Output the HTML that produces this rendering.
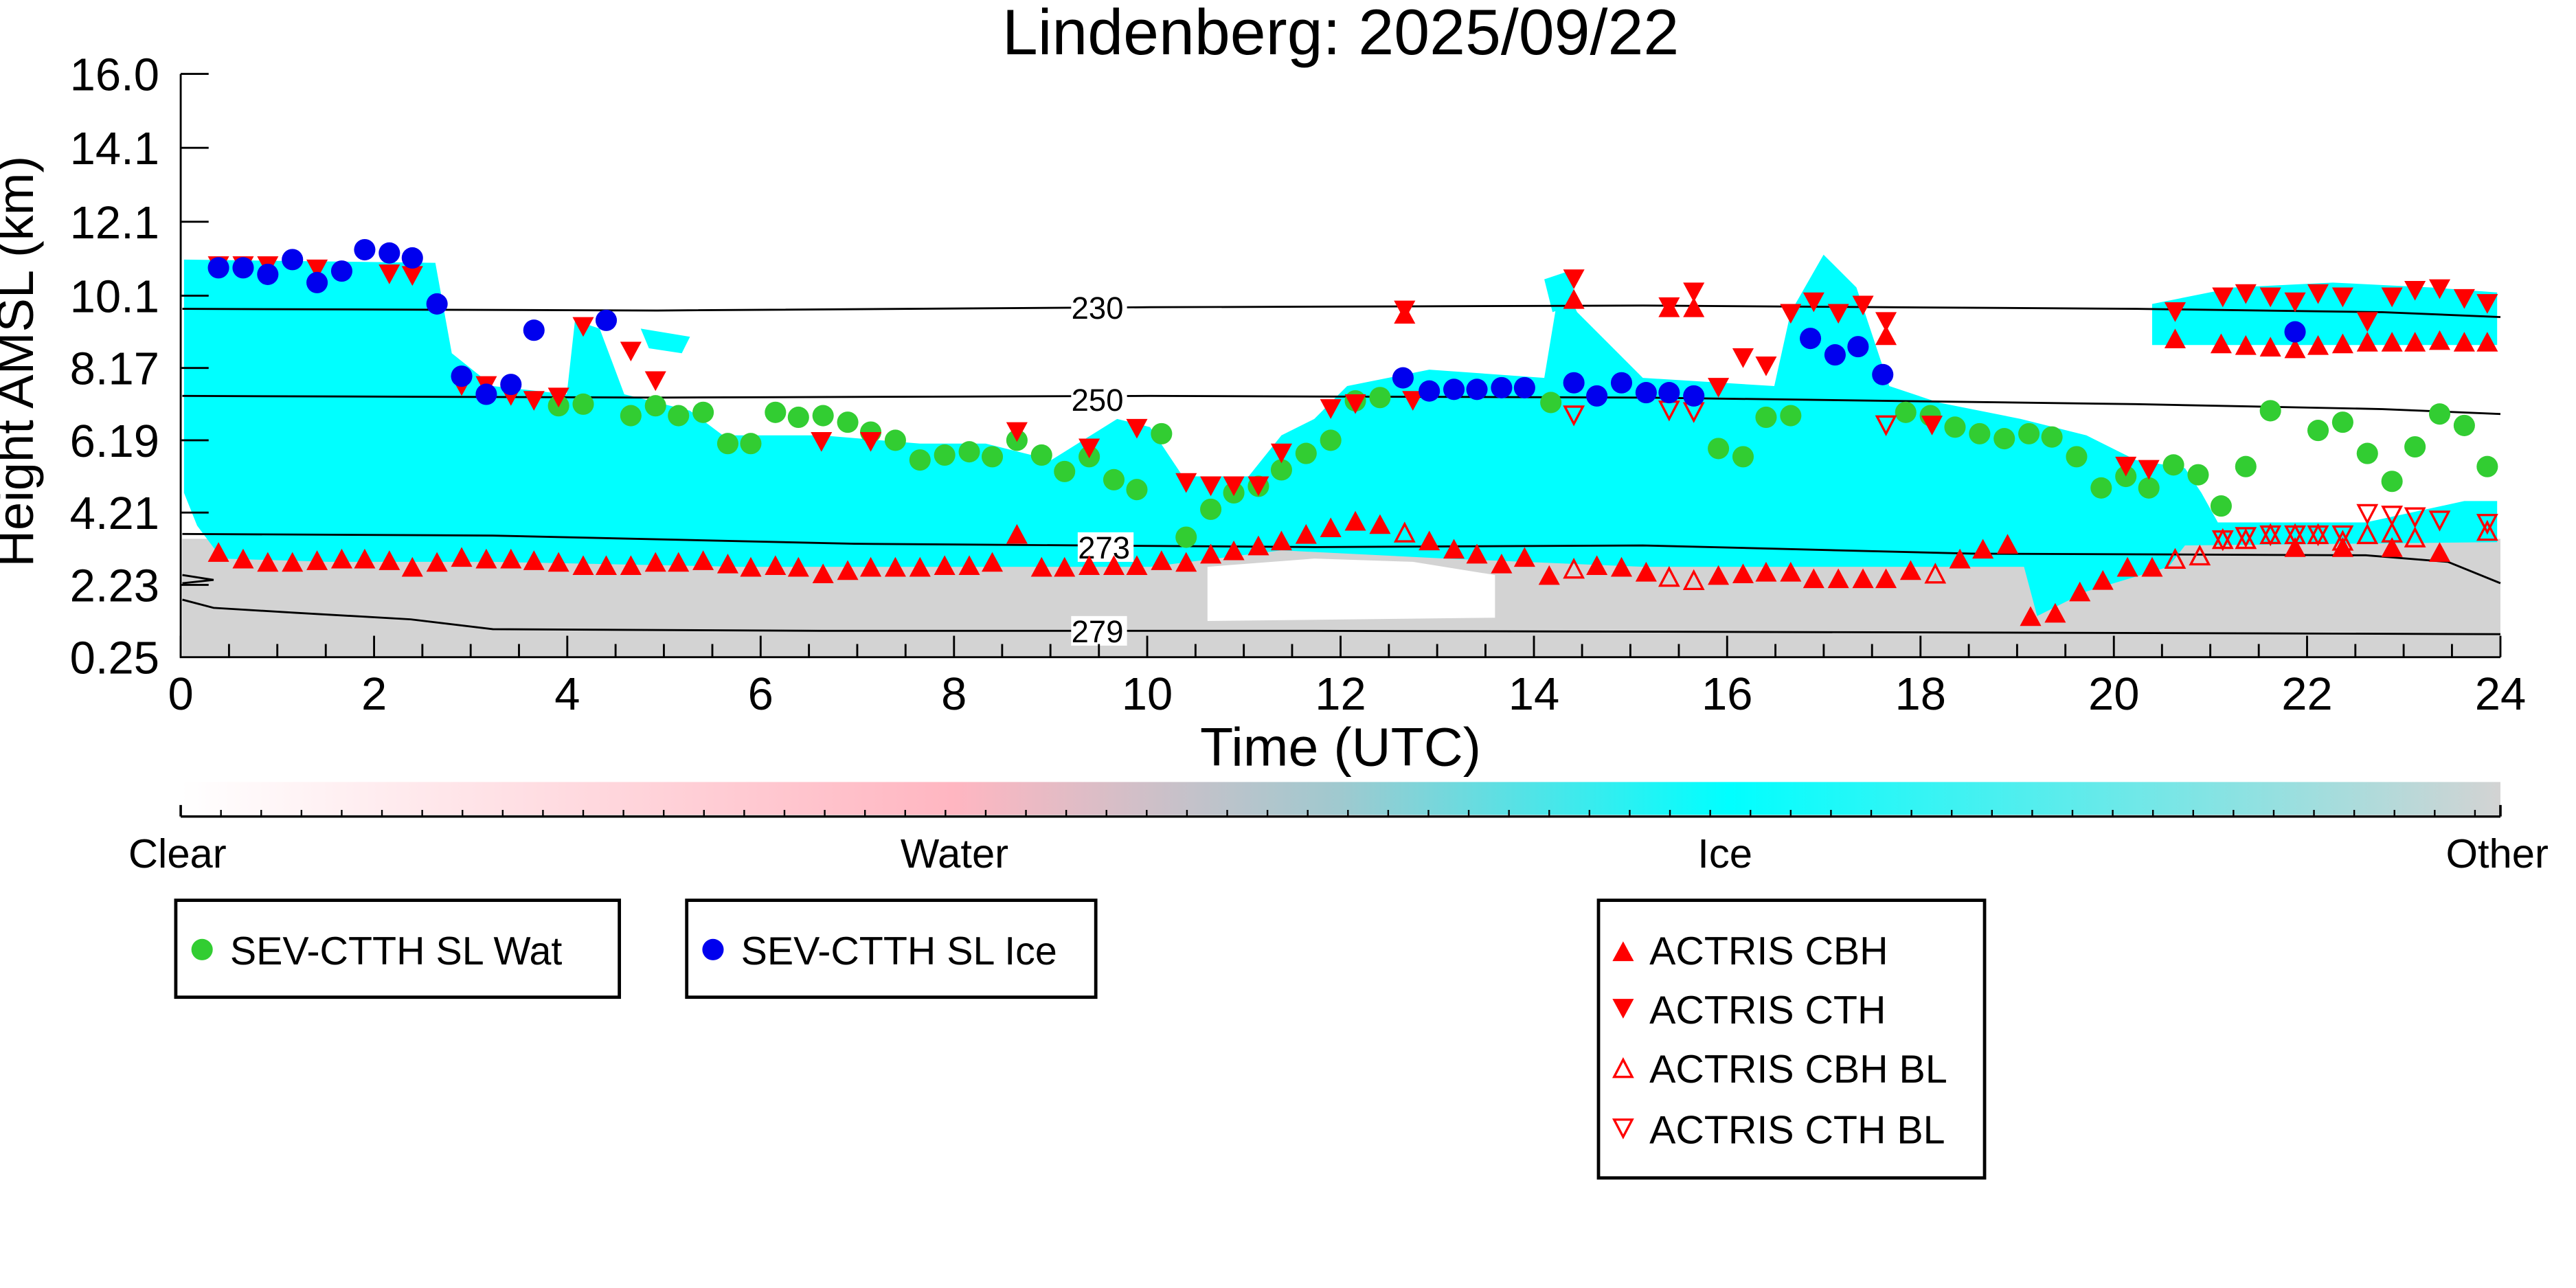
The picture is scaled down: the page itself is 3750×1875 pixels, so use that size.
<!DOCTYPE html>
<html><head><meta charset="utf-8"><style>html,body{margin:0;padding:0;background:#fff}svg{display:block}text{font-family:"Liberation Sans","DejaVu Sans",sans-serif}</style></head>
<body>
<svg xmlns="http://www.w3.org/2000/svg" width="3750" height="1875" viewBox="0 0 1568 784" preserveAspectRatio="none">
<defs>
<linearGradient id="cb" x1="0" x2="1" y1="0" y2="0">
<stop offset="0" stop-color="#ffffff"/><stop offset="0.333" stop-color="#ffb6c1"/><stop offset="0.5" stop-color="#9fc9cf"/><stop offset="0.667" stop-color="#00ffff"/><stop offset="1" stop-color="#d3d3d3"/>
</linearGradient>
<path id="u" d="M0,-7 L6.5,5 L-6.5,5Z" fill="#f00"/>
<path id="d" d="M0,7 L6.5,-5 L-6.5,-5Z" fill="#f00"/>
<path id="uo" d="M0,-6 L5.5,4.5 L-5.5,4.5Z" fill="none" stroke="#f00" stroke-width="1.4"/>
<path id="do" d="M0,6 L5.5,-4.5 L-5.5,-4.5Z" fill="none" stroke="#f00" stroke-width="1.4"/>
</defs>
<text x="816" y="33" font-size="39" text-anchor="middle">Lindenberg: 2025/09/22</text>

<rect x="111" y="328" width="1411" height="72" fill="#d3d3d3"/>
<path d="M735,345 L800,340 L860,342 L910,350 L910,376 L735,378Z" fill="#fff"/>
<path fill="#00ffff" d="M112,158 L265,160 L275,215 L300,235 L345,240 L350,195 L365,200 L380,240 L420,250 L440,265 L500,265 L560,270 L600,270 L640,280 L680,255 L700,260 L720,290 L760,290 L780,265 L800,255 L820,235 L870,225 L940,230 L950,170 L960,190 L1000,230 L1080,235 L1090,190 L1110,155 L1130,175 L1150,235 L1180,245 L1230,255 L1270,265 L1300,280 L1330,285 L1340,300 L1350,318 L1440,318 L1500,305 L1520,305 L1520,330 L1330,332 L1320,345 L1270,360 L1240,375 L1232,345 L1150,345 L1000,345 L880,340 L780,335 L700,345 L600,345 L450,345 L300,342 L200,342 L135,340 L120,320 L112,300Z"/>
<path fill="#00ffff" d="M1310,185 L1360,175 L1420,172 L1480,175 L1520,178 L1520,210 L1310,210Z"/>
<path fill="#00ffff" d="M940,170 L955,165 L960,185 L945,190Z"/>
<path fill="#00ffff" d="M390,200 L420,205 L415,215 L395,212Z"/>
<g fill="none" stroke="#000" stroke-width="1.2">
<path d="M111,188 L400,189 L700,187 L1000,186 L1300,188 L1450,190 L1522,193"/>
<path d="M111,241 L400,242 L700,241 L1000,242 L1300,246 L1450,249 L1522,252"/>
<path d="M111,325 L300,326 L520,331 L800,333 L1000,332 L1200,337 L1440,338 L1490,342 L1522,355"/>
<path d="M111,365 L130,370 L180,373 L250,377 L300,383 L500,384 L800,384 L1200,385 L1522,386"/>
<path d="M111,350 L130,353 L111,355"/>
</g>
<g font-size="19" text-anchor="middle">
<rect x="652" y="178" width="34" height="18" fill="#fff"/><text x="668" y="194">230</text>
<rect x="652" y="234" width="34" height="18" fill="#fff"/><text x="668" y="250">250</text>
<rect x="656" y="324" width="34" height="18" fill="#fff"/><text x="672" y="340">273</text>
<rect x="652" y="375" width="34" height="18" fill="#fff"/><text x="668" y="391">279</text>
</g>

<g fill="#32cd32">
<circle cx="340" cy="247" r="6.5"/><circle cx="355" cy="246" r="6.5"/><circle cx="384" cy="253" r="6.5"/><circle cx="399" cy="247" r="6.5"/><circle cx="413" cy="253" r="6.5"/><circle cx="428" cy="251" r="6.5"/><circle cx="443" cy="270" r="6.5"/><circle cx="457" cy="270" r="6.5"/><circle cx="472" cy="251" r="6.5"/><circle cx="486" cy="254" r="6.5"/><circle cx="501" cy="253" r="6.5"/><circle cx="516" cy="257" r="6.5"/><circle cx="530" cy="263" r="6.5"/><circle cx="545" cy="268" r="6.5"/><circle cx="560" cy="280" r="6.5"/><circle cx="575" cy="277" r="6.5"/><circle cx="590" cy="275" r="6.5"/><circle cx="604" cy="278" r="6.5"/><circle cx="619" cy="268" r="6.5"/><circle cx="634" cy="277" r="6.5"/><circle cx="648" cy="287" r="6.5"/><circle cx="663" cy="278" r="6.5"/><circle cx="678" cy="292" r="6.5"/><circle cx="692" cy="298" r="6.5"/><circle cx="707" cy="264" r="6.5"/><circle cx="722" cy="327" r="6.5"/><circle cx="737" cy="310" r="6.5"/><circle cx="751" cy="300" r="6.5"/><circle cx="766" cy="296" r="6.5"/><circle cx="780" cy="286" r="6.5"/><circle cx="795" cy="276" r="6.5"/><circle cx="810" cy="268" r="6.5"/><circle cx="825" cy="244" r="6.5"/><circle cx="840" cy="242" r="6.5"/><circle cx="944" cy="245" r="6.5"/><circle cx="1046" cy="273" r="6.5"/><circle cx="1061" cy="278" r="6.5"/><circle cx="1075" cy="254" r="6.5"/><circle cx="1090" cy="253" r="6.5"/><circle cx="1160" cy="251" r="6.5"/><circle cx="1175" cy="253" r="6.5"/><circle cx="1190" cy="260" r="6.5"/><circle cx="1205" cy="264" r="6.5"/><circle cx="1220" cy="267" r="6.5"/><circle cx="1235" cy="264" r="6.5"/><circle cx="1249" cy="266" r="6.5"/><circle cx="1264" cy="278" r="6.5"/><circle cx="1279" cy="297" r="6.5"/><circle cx="1294" cy="290" r="6.5"/><circle cx="1308" cy="297" r="6.5"/><circle cx="1323" cy="283" r="6.5"/><circle cx="1338" cy="289" r="6.5"/><circle cx="1352" cy="308" r="6.5"/><circle cx="1367" cy="284" r="6.5"/><circle cx="1382" cy="250" r="6.5"/><circle cx="1411" cy="262" r="6.5"/><circle cx="1426" cy="257" r="6.5"/><circle cx="1441" cy="276" r="6.5"/><circle cx="1456" cy="293" r="6.5"/><circle cx="1470" cy="272" r="6.5"/><circle cx="1485" cy="252" r="6.5"/><circle cx="1500" cy="259" r="6.5"/><circle cx="1514" cy="284" r="6.5"/>
</g>
<g>
<use href="#d" x="133" y="161"/><use href="#d" x="148" y="161"/><use href="#d" x="163" y="161"/><use href="#d" x="193" y="163"/><use href="#d" x="237" y="166"/><use href="#d" x="251" y="167"/><use href="#d" x="281" y="234"/><use href="#d" x="296" y="234"/><use href="#d" x="311" y="240"/><use href="#d" x="325" y="243"/><use href="#d" x="340" y="241"/><use href="#d" x="355" y="198"/><use href="#d" x="384" y="213"/><use href="#d" x="399" y="231"/><use href="#d" x="619" y="262"/><use href="#d" x="663" y="272"/><use href="#d" x="692" y="260"/><use href="#d" x="722" y="293"/><use href="#d" x="737" y="295"/><use href="#d" x="751" y="295"/><use href="#d" x="766" y="295"/><use href="#d" x="780" y="275"/><use href="#d" x="810" y="248"/><use href="#d" x="825" y="245"/><use href="#d" x="855" y="188"/><use href="#d" x="958" y="169"/><use href="#d" x="1016" y="186"/><use href="#d" x="1031" y="177"/><use href="#d" x="1046" y="235"/><use href="#d" x="1061" y="217"/><use href="#d" x="1075" y="222"/><use href="#d" x="1090" y="190"/><use href="#d" x="1104" y="183"/><use href="#d" x="1119" y="190"/><use href="#d" x="1134" y="185"/><use href="#d" x="1148" y="195"/><use href="#d" x="1294" y="283"/><use href="#d" x="1308" y="285"/><use href="#d" x="1324" y="189"/><use href="#d" x="1353" y="180"/><use href="#d" x="1367" y="178"/><use href="#d" x="1382" y="180"/><use href="#d" x="1397" y="183"/><use href="#d" x="1411" y="178"/><use href="#d" x="1426" y="180"/><use href="#d" x="1441" y="195"/><use href="#d" x="1456" y="180"/><use href="#d" x="1470" y="176"/><use href="#d" x="1485" y="175"/><use href="#d" x="1500" y="181"/><use href="#d" x="1514" y="184"/>
<use href="#d" x="500" y="268"/><use href="#d" x="530" y="268"/><use href="#d" x="860" y="243"/><use href="#d" x="1176" y="258"/>
</g>
<g>
<use href="#u" x="133" y="337"/><use href="#u" x="148" y="341"/><use href="#u" x="163" y="343"/><use href="#u" x="178" y="343"/><use href="#u" x="193" y="342"/><use href="#u" x="208" y="341"/><use href="#u" x="222" y="341"/><use href="#u" x="237" y="342"/><use href="#u" x="251" y="346"/><use href="#u" x="266" y="343"/><use href="#u" x="281" y="340"/><use href="#u" x="296" y="341"/><use href="#u" x="311" y="341"/><use href="#u" x="325" y="342"/><use href="#u" x="340" y="343"/><use href="#u" x="355" y="345"/><use href="#u" x="369" y="345"/><use href="#u" x="384" y="345"/><use href="#u" x="399" y="343"/><use href="#u" x="413" y="343"/><use href="#u" x="428" y="342"/><use href="#u" x="443" y="344"/><use href="#u" x="457" y="346"/><use href="#u" x="472" y="345"/><use href="#u" x="486" y="346"/><use href="#u" x="501" y="350"/><use href="#u" x="516" y="348"/><use href="#u" x="530" y="346"/><use href="#u" x="545" y="346"/><use href="#u" x="560" y="346"/><use href="#u" x="575" y="345"/><use href="#u" x="590" y="345"/><use href="#u" x="604" y="343"/><use href="#u" x="619" y="326"/><use href="#u" x="634" y="346"/><use href="#u" x="648" y="346"/><use href="#u" x="663" y="345"/><use href="#u" x="678" y="345"/><use href="#u" x="692" y="345"/><use href="#u" x="707" y="342"/><use href="#u" x="722" y="343"/><use href="#u" x="737" y="338"/><use href="#u" x="751" y="336"/><use href="#u" x="766" y="333"/><use href="#u" x="780" y="330"/><use href="#u" x="795" y="326"/><use href="#u" x="810" y="322"/><use href="#u" x="825" y="318"/><use href="#u" x="840" y="320"/><use href="#u" x="870" y="330"/><use href="#u" x="885" y="335"/><use href="#u" x="899" y="338"/><use href="#u" x="914" y="344"/><use href="#u" x="928" y="340"/><use href="#u" x="943" y="351"/><use href="#u" x="972" y="345"/><use href="#u" x="987" y="346"/><use href="#u" x="1002" y="349"/><use href="#u" x="1046" y="351"/><use href="#u" x="1061" y="350"/><use href="#u" x="1075" y="349"/><use href="#u" x="1090" y="349"/><use href="#u" x="1104" y="353"/><use href="#u" x="1119" y="353"/><use href="#u" x="1134" y="353"/><use href="#u" x="1148" y="353"/><use href="#u" x="1163" y="348"/><use href="#u" x="1193" y="341"/><use href="#u" x="1207" y="335"/><use href="#u" x="1222" y="332"/><use href="#u" x="1236" y="376"/><use href="#u" x="1251" y="374"/><use href="#u" x="1266" y="361"/><use href="#u" x="1280" y="354"/><use href="#u" x="1295" y="346"/><use href="#u" x="1310" y="346"/><use href="#u" x="1324" y="207"/><use href="#u" x="1352" y="210"/><use href="#u" x="1367" y="211"/><use href="#u" x="1382" y="212"/><use href="#u" x="1397" y="213"/><use href="#u" x="1411" y="211"/><use href="#u" x="1426" y="210"/><use href="#u" x="1441" y="209"/><use href="#u" x="1456" y="209"/><use href="#u" x="1470" y="209"/><use href="#u" x="1485" y="208"/><use href="#u" x="1500" y="209"/><use href="#u" x="1514" y="209"/>
<use href="#u" x="855" y="192"/><use href="#u" x="958" y="183"/><use href="#u" x="1016" y="188"/><use href="#u" x="1031" y="188"/><use href="#u" x="1148" y="205"/><use href="#u" x="1485" y="337"/><use href="#u" x="1456" y="334"/><use href="#u" x="1426" y="334"/><use href="#u" x="1397" y="334"/>
</g>
<g>
<use href="#uo" x="855" y="325"/><use href="#uo" x="958" y="347"/><use href="#uo" x="1016" y="352"/><use href="#uo" x="1031" y="354"/><use href="#uo" x="1178" y="350"/><use href="#uo" x="1324" y="341"/><use href="#uo" x="1339" y="339"/><use href="#uo" x="1353" y="329"/><use href="#uo" x="1367" y="329"/><use href="#uo" x="1382" y="326"/><use href="#uo" x="1397" y="326"/><use href="#uo" x="1411" y="326"/><use href="#uo" x="1426" y="330"/><use href="#uo" x="1441" y="326"/><use href="#uo" x="1456" y="325"/><use href="#uo" x="1470" y="328"/><use href="#uo" x="1514" y="324"/>
<use href="#do" x="958" y="252"/><use href="#do" x="1016" y="249"/><use href="#do" x="1031" y="250"/><use href="#do" x="1148" y="258"/><use href="#do" x="1353" y="328"/><use href="#do" x="1367" y="326"/><use href="#do" x="1382" y="325"/><use href="#do" x="1397" y="325"/><use href="#do" x="1411" y="325"/><use href="#do" x="1426" y="325"/><use href="#do" x="1441" y="312"/><use href="#do" x="1456" y="313"/><use href="#do" x="1470" y="314"/><use href="#do" x="1485" y="316"/><use href="#do" x="1514" y="318"/>
</g>
<g fill="#0000ee">
<circle cx="133" cy="163" r="6.5"/><circle cx="148" cy="163" r="6.5"/><circle cx="163" cy="167" r="6.5"/><circle cx="178" cy="158" r="6.5"/><circle cx="193" cy="172" r="6.5"/><circle cx="208" cy="165" r="6.5"/><circle cx="222" cy="152" r="6.5"/><circle cx="237" cy="154" r="6.5"/><circle cx="251" cy="157" r="6.5"/><circle cx="266" cy="185" r="6.5"/><circle cx="281" cy="229" r="6.5"/><circle cx="296" cy="240" r="6.5"/><circle cx="311" cy="234" r="6.5"/><circle cx="325" cy="201" r="6.5"/><circle cx="369" cy="195" r="6.5"/><circle cx="854" cy="230" r="6.5"/><circle cx="870" cy="238" r="6.5"/><circle cx="885" cy="237" r="6.5"/><circle cx="899" cy="237" r="6.5"/><circle cx="914" cy="236" r="6.5"/><circle cx="928" cy="236" r="6.5"/><circle cx="958" cy="233" r="6.5"/><circle cx="972" cy="241" r="6.5"/><circle cx="987" cy="233" r="6.5"/><circle cx="1002" cy="239" r="6.5"/><circle cx="1016" cy="239" r="6.5"/><circle cx="1031" cy="241" r="6.5"/><circle cx="1102" cy="206" r="6.5"/><circle cx="1117" cy="216" r="6.5"/><circle cx="1131" cy="211" r="6.5"/><circle cx="1146" cy="228" r="6.5"/><circle cx="1397" cy="202" r="6.5"/>
</g>

<g stroke="#000" stroke-width="1.2" fill="none">
<path d="M110,45 L110,400 L1522,400"/>
<path d="M110,45 H127 M110,90 H127 M110,135 H127 M110,180 H127 M110,224 H127 M110,268 H127 M110,312 H127 M110,356 H127"/>
<path d="M110,400 v-13 M227.7,400 v-13 M345.3,400 v-13 M463,400 v-13 M580.7,400 v-13 M698.3,400 v-13 M816,400 v-13 M933.7,400 v-13 M1051.3,400 v-13 M1169,400 v-13 M1286.7,400 v-13 M1404.3,400 v-13 M1522,400 v-13"/>
<path d="M139.4,400 v-8 M168.8,400 v-8 M198.3,400 v-8 M257.1,400 v-8 M286.5,400 v-8 M315.9,400 v-8 M374.7,400 v-8 M404.1,400 v-8 M433.6,400 v-8 M492.4,400 v-8 M521.8,400 v-8 M551.2,400 v-8 M610,400 v-8 M639.4,400 v-8 M668.9,400 v-8 M727.7,400 v-8 M757.1,400 v-8 M786.5,400 v-8 M845.4,400 v-8 M874.8,400 v-8 M904.2,400 v-8 M963,400 v-8 M992.4,400 v-8 M1021.9,400 v-8 M1080.7,400 v-8 M1110.1,400 v-8 M1139.5,400 v-8 M1198.4,400 v-8 M1227.8,400 v-8 M1257.2,400 v-8 M1316,400 v-8 M1345.4,400 v-8 M1374.9,400 v-8 M1433.7,400 v-8 M1463.1,400 v-8 M1492.5,400 v-8"/>
</g>
<g font-size="28" text-anchor="end">
<text x="97" y="55">16.0</text><text x="97" y="100">14.1</text><text x="97" y="145">12.1</text><text x="97" y="190">10.1</text><text x="97" y="234">8.17</text><text x="97" y="278">6.19</text><text x="97" y="322">4.21</text><text x="97" y="366">2.23</text><text x="97" y="410">0.25</text>
</g>
<g font-size="28" text-anchor="middle">
<text x="110" y="432">0</text><text x="227.7" y="432">2</text><text x="345.3" y="432">4</text><text x="463" y="432">6</text><text x="580.7" y="432">8</text><text x="698.3" y="432">10</text><text x="816" y="432">12</text><text x="933.7" y="432">14</text><text x="1051.3" y="432">16</text><text x="1169" y="432">18</text><text x="1286.7" y="432">20</text><text x="1404.3" y="432">22</text><text x="1522" y="432">24</text>
</g>
<text x="816" y="466" font-size="33" text-anchor="middle">Time (UTC)</text>
<text transform="translate(20,220) rotate(-90)" font-size="31" text-anchor="middle">Height AMSL (km)</text>

<rect x="110" y="476" width="1412" height="20" fill="url(#cb)"/>
<path d="M110,497 H1522 M110,497 v-7 M1522,497 v-7" stroke="#000" stroke-width="1.5" fill="none"/>
<path stroke="#000" stroke-width="1" fill="none" d="M134.5,497v-4 M159,497v-4 M183.5,497v-4 M208,497v-4 M232.5,497v-4 M257,497v-4 M281.5,497v-4 M306,497v-4 M330.5,497v-4 M355,497v-4 M379.5,497v-4 M404,497v-4 M428.5,497v-4 M453,497v-4 M477.5,497v-4 M502,497v-4 M526.5,497v-4 M551,497v-4 M575.5,497v-4 M600,497v-4 M624.5,497v-4 M649,497v-4 M673.5,497v-4 M698,497v-4 M722.5,497v-4 M747,497v-4 M771.5,497v-4 M796,497v-4 M820.5,497v-4 M845,497v-4 M869.5,497v-4 M894,497v-4 M918.5,497v-4 M943,497v-4 M967.5,497v-4 M992,497v-4 M1016.5,497v-4 M1041,497v-4 M1065.5,497v-4 M1090,497v-4 M1114.5,497v-4 M1139,497v-4 M1163.5,497v-4 M1188,497v-4 M1212.5,497v-4 M1237,497v-4 M1261.5,497v-4 M1286,497v-4 M1310.5,497v-4 M1335,497v-4 M1359.5,497v-4 M1384,497v-4 M1408.5,497v-4 M1433,497v-4 M1457.5,497v-4 M1482,497v-4 M1506.5,497v-4"/>
<g font-size="25" text-anchor="middle">
<text x="108" y="528">Clear</text><text x="581" y="528">Water</text><text x="1050" y="528">Ice</text><text x="1520" y="528">Other</text>
</g>

<g stroke="#000" stroke-width="2" fill="#fff">
<rect x="107" y="548" width="270" height="59"/>
<rect x="418" y="548" width="249" height="59"/>
<rect x="973" y="548" width="235" height="169"/>
</g>
<circle cx="123" cy="578" r="6.5" fill="#32cd32"/>
<circle cx="434" cy="578" r="6.5" fill="#0000ee"/>
<use href="#u" x="988" y="580"/><use href="#d" x="988" y="613"/><use href="#uo" x="988" y="651"/><use href="#do" x="988" y="686"/>
<g font-size="24">
<text x="140" y="587">SEV-CTTH SL Wat</text>
<text x="451" y="587">SEV-CTTH SL Ice</text>
<text x="1004" y="587">ACTRIS CBH</text>
<text x="1004" y="623">ACTRIS CTH</text>
<text x="1004" y="659">ACTRIS CBH BL</text>
<text x="1004" y="696">ACTRIS CTH BL</text>
</g>
</svg>
</body></html>
